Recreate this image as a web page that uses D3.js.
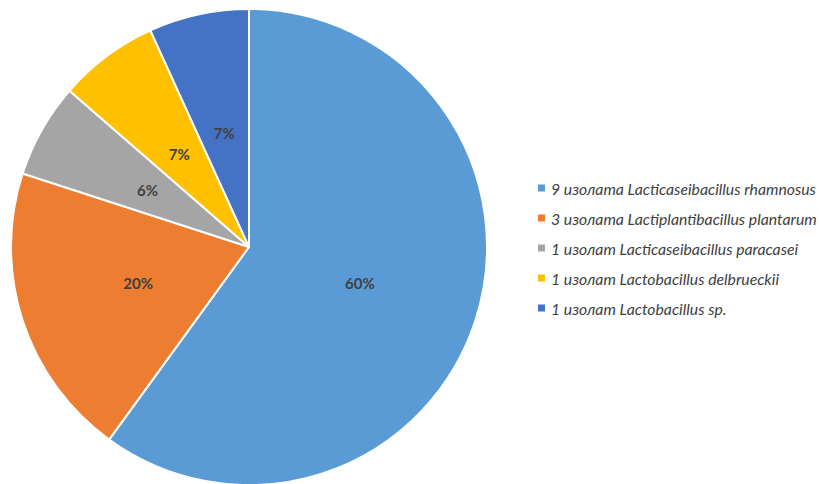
<!DOCTYPE html>
<html>
<head>
<meta charset="utf-8">
<script src="https://cdn.jsdelivr.net/npm/d3@7"></script>
<style>
  html, body { margin: 0; padding: 0; background: #fff; }
  svg { display: block; }
</style>
</head>
<body>
<svg id="chart" width="819" height="484"></svg>
<script>
// Isolate share by species, percent
const categories = [
  "9 изолата Lacticaseibacillus rhamnosus",
  "3 изолата Lactiplantibacillus plantarum",
  "1 изолат Lacticaseibacillus paracasei",
  "1 изолат Lactobacillus delbrueckii",
  "1 изолат Lactobacillus sp."
];
const values = [60, 20, 6.4, 6.8, 6.8];
const colors = ["#5B9BD5", "#ED7D31", "#A5A5A5", "#FFC000", "#4472C4"];

const svg = d3.select("#chart");
const cx = 249, cy = 247, r = 238;

const pie = d3.pie().sort(null).value(d => d.value);
const arcs = pie(categories.map((c, i) => ({ name: c, value: values[i], color: colors[i] })));

const arc = d3.arc().innerRadius(0).outerRadius(r);
const labelArc = d3.arc().innerRadius(r * 0.49).outerRadius(r * 0.49);

const g = svg.append("g").attr("transform", `translate(${cx},${cy})`);

g.selectAll("path.slice")
  .data(arcs)
  .join("path")
  .attr("class", "slice")
  .attr("d", arc)
  .attr("fill", d => d.data.color)
  .attr("stroke", "#fff")
  .attr("stroke-width", 2)
  .attr("stroke-linejoin", "round");

const fmt = d3.format(".0f");
g.selectAll("text.pct")
  .data(arcs)
  .join("text")
  .attr("class", "pct")
  .attr("transform", d => `translate(${labelArc.centroid(d)})`)
  .attr("text-anchor", "middle")
  .attr("dominant-baseline", "central")
  .attr("font-family", "Lato, 'Open Sans', sans-serif")
  .attr("font-weight", "bold")
  .attr("font-size", 15)
  .attr("fill", "#404040")
  .text(d => fmt(d.data.value) + "%");

// Legend
const legendY = d3.scalePoint().domain(categories).range([188, 308]);
const legend = svg.append("g");
const items = legend.selectAll("g.item")
  .data(arcs)
  .join("g")
  .attr("class", "item")
  .attr("transform", d => `translate(538,${legendY(d.data.name)})`);

items.append("rect")
  .attr("x", 0).attr("y", -3.5)
  .attr("width", 7).attr("height", 7)
  .attr("fill", d => d.data.color);

const labels = items.append("text")
  .attr("x", 13)
  .attr("y", 0)
  .attr("dominant-baseline", "central")
  .attr("font-family", "Lato, 'Open Sans', sans-serif")
  .attr("font-style", "italic")
  .attr("font-size", 14)
  .attr("fill", "#404040")
  .text(d => d.data.name);

// Size the legend font so the longest entry spans the space up to the right edge
const widest = d3.max(labels.nodes(), n => n.getComputedTextLength());
const legendSize = 14 * 266 / widest;
labels.attr("font-size", legendSize);
</script>
</body>
</html>
